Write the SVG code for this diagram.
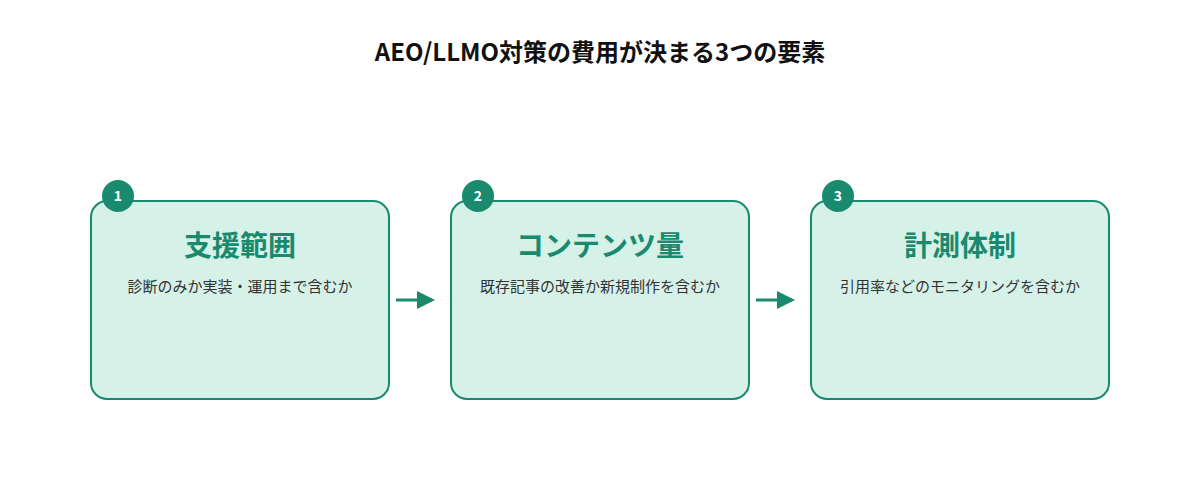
<svg xmlns="http://www.w3.org/2000/svg" width="1200" height="500" viewBox="0 0 1200 500">
<defs>
<style>
text{font-family:"Noto Sans CJK JP","Noto Sans",sans-serif}
.box{fill:#d5f1e8;stroke:#1a8a6e;stroke-width:2}
.badge{fill:#1a8a6e}
.num{fill:#fff;font-size:14px;font-weight:700;text-anchor:middle}
.title{fill:#1a8a6e;font-size:28px;font-weight:700;text-anchor:middle}
.desc{fill:#333;font-size:15px;text-anchor:middle}
.conn{stroke:#1a8a6e;stroke-width:3;fill:none}
</style>
<marker id="arr" markerWidth="6" markerHeight="6" refX="5" refY="3" orient="auto" markerUnits="strokeWidth"><path d="M0,0L6,3L0,6z" fill="#1a8a6e"/></marker>
</defs>
<rect width="1200" height="500" fill="#fff"/>
<text x="600" y="61" font-size="24" font-weight="700" text-anchor="middle" fill="#111">AEO/LLMO対策の費用が決まる3つの要素</text>
<g id="n1"><rect class="box" x="91" y="201" width="298" height="198" rx="16"/><circle class="badge" cx="118" cy="196" r="16"/><text class="num" x="118" y="201">1</text><text class="title" x="240" y="256">支援範囲</text><text class="desc" x="240" y="292">診断のみか実装・運用まで含むか</text></g>
<g id="n2"><rect class="box" x="451" y="201" width="298" height="198" rx="16"/><circle class="badge" cx="478" cy="196" r="16"/><text class="num" x="478" y="201">2</text><text class="title" x="600" y="256">コンテンツ量</text><text class="desc" x="600" y="292">既存記事の改善か新規制作を含むか</text></g>
<g id="n3"><rect class="box" x="811" y="201" width="298" height="198" rx="16"/><circle class="badge" cx="838" cy="196" r="16"/><text class="num" x="838" y="201">3</text><text class="title" x="960" y="256">計測体制</text><text class="desc" x="960" y="292">引用率などのモニタリングを含むか</text></g>
<g id="connectors"><line class="conn" x1="396" y1="300" x2="432" y2="300" marker-end="url(#arr)"/><line class="conn" x1="756" y1="300" x2="792" y2="300" marker-end="url(#arr)"/></g>
</svg>
